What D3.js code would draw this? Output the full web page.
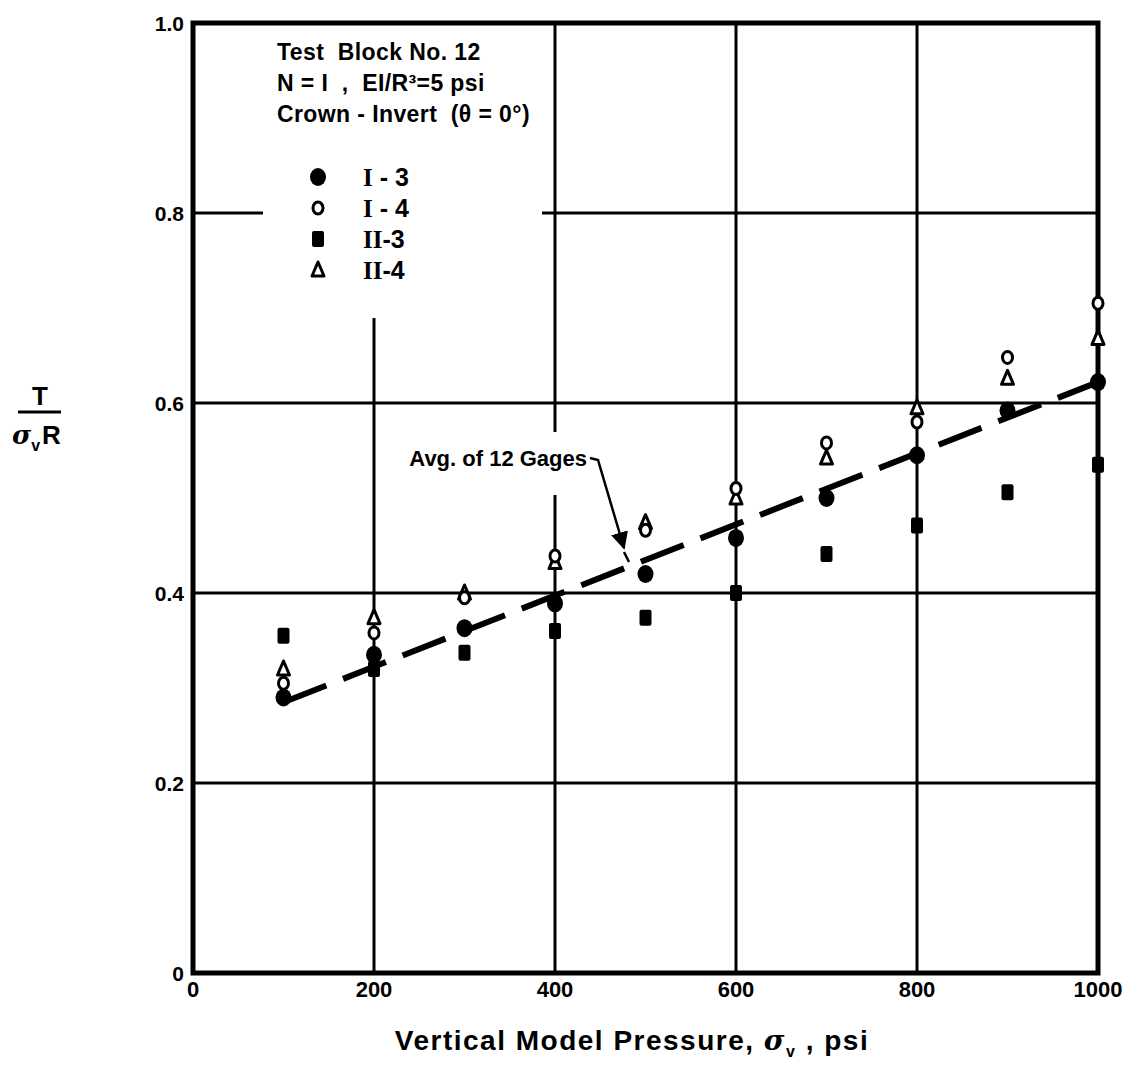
<!DOCTYPE html>
<html>
<head>
<meta charset="utf-8">
<script src="https://cdn.jsdelivr.net/npm/d3@7/dist/d3.min.js"></script>
<style>
  html, body { margin: 0; padding: 0; background: #fff; }
  svg { display: block; }
  text { font-family: "Liberation Sans", Arial, sans-serif; font-weight: bold; fill: #000; white-space: pre; }
</style>
</head>
<body>
<script>
// Test Block No. 12 — hoop thrust ratio vs vertical model pressure
const pressures = [100, 200, 300, 400, 500, 600, 700, 800, 900, 1000];
const gageI3  = [0.290, 0.335, 0.363, 0.389, 0.420, 0.458, 0.500, 0.545, 0.592, 0.622];
const gageI4  = [0.305, 0.358, 0.395, 0.439, 0.466, 0.510, 0.558, 0.580, 0.648, 0.705];
const gageII3 = [0.355, 0.320, 0.337, 0.360, 0.374, 0.400, 0.441, 0.471, 0.506, 0.535];
const gageII4 = [0.320, 0.374, 0.400, 0.432, 0.474, 0.500, 0.542, 0.595, 0.626, 0.668];

// average of 12 gages (straight line)
const avgPressure = [100, 1000];
const avgValue = [0.285, 0.622];

const xTicks = [0, 200, 400, 600, 800, 1000];
const yTicks = [0, 0.2, 0.4, 0.6, 0.8, 1.0];
const yTickLabels = ["0", "0.2", "0.4", "0.6", "0.8", "1.0"];

const W = 1130, H = 1069;
const svg = d3.select("body").append("svg").attr("width", W).attr("height", H);

const x = d3.scaleLinear().domain([0, 1000]).range([193, 1098]);
const y = d3.scaleLinear().domain([0, 1]).range([973, 23]);

const grid = svg.append("g").attr("stroke", "#000").attr("stroke-width", 3);

// horizontal grid lines (0.8 is broken around the notes)
yTicks.filter(v => v > 0 && v < 1).forEach(v => {
  if (v === 0.8) {
    grid.append("line").attr("x1", x(0)).attr("x2", 263).attr("y1", y(v)).attr("y2", y(v));
    grid.append("line").attr("x1", 542).attr("x2", x(1000)).attr("y1", y(v)).attr("y2", y(v));
  } else {
    grid.append("line").attr("x1", x(0)).attr("x2", x(1000)).attr("y1", y(v)).attr("y2", y(v));
  }
});

// vertical grid lines (200 starts below the legend, 400 breaks around the label)
xTicks.filter(v => v > 0 && v < 1000).forEach(v => {
  if (v === 200) {
    grid.append("line").attr("x1", x(v)).attr("x2", x(v)).attr("y1", 318).attr("y2", y(0));
  } else if (v === 400) {
    grid.append("line").attr("x1", x(v)).attr("x2", x(v)).attr("y1", y(1)).attr("y2", 432);
    grid.append("line").attr("x1", x(v)).attr("x2", x(v)).attr("y1", 495).attr("y2", y(0));
  } else {
    grid.append("line").attr("x1", x(v)).attr("x2", x(v)).attr("y1", y(1)).attr("y2", y(0));
  }
});

// frame
svg.append("rect")
  .attr("x", x(0)).attr("y", y(1))
  .attr("width", x(1000) - x(0)).attr("height", y(0) - y(1))
  .attr("fill", "none").attr("stroke", "#000").attr("stroke-width", 5);

// tick labels
svg.append("g").selectAll("text").data(xTicks).join("text")
  .attr("x", d => x(d)).attr("y", 997)
  .attr("text-anchor", "middle").attr("font-size", 22)
  .text(d => d);

svg.append("g").selectAll("text").data(yTicks).join("text")
  .attr("x", 184).attr("y", d => y(d) + 8)
  .attr("text-anchor", "end").attr("font-size", 21)
  .text((d, i) => yTickLabels[i]);

// x-axis title
const xt = svg.append("text").attr("x", 632).attr("y", 1050)
  .attr("text-anchor", "middle").attr("font-size", 28).attr("letter-spacing", 1.5);
xt.append("tspan").text("Vertical Model Pressure, ");
xt.append("tspan").attr("font-family", "DejaVu Serif").attr("font-style", "italic").text("σ");
xt.append("tspan").attr("font-size", 16).attr("dy", 7).text("v");
xt.append("tspan").attr("dy", -7).text(" , psi");

// y-axis title as a fraction
svg.append("text").attr("x", 40).attr("y", 405).attr("text-anchor", "middle")
  .attr("font-size", 26).text("T");
svg.append("line").attr("x1", 18).attr("x2", 61).attr("y1", 412).attr("y2", 412)
  .attr("stroke", "#000").attr("stroke-width", 3);
const yt = svg.append("text").attr("x", 12).attr("y", 444).attr("font-size", 26);
yt.append("tspan").attr("font-family", "DejaVu Serif").attr("font-style", "italic").text("σ");
yt.append("tspan").attr("font-size", 16).attr("dy", 7).text("v");
yt.append("tspan").attr("dy", -7).attr("dx", 2).text("R");

// average line
const avgLine = d3.line().x(d => x(d[0])).y(d => y(d[1]));
svg.append("path")
  .attr("d", avgLine(d3.zip(avgPressure, avgValue)))
  .attr("fill", "none").attr("stroke", "#000").attr("stroke-width", 6)
  .attr("stroke-dasharray", "46 18");

// leader with arrow for the average line
svg.append("defs").append("marker")
  .attr("id", "arrow").attr("viewBox", "0 0 10 10").attr("refX", 9).attr("refY", 5)
  .attr("markerWidth", 7).attr("markerHeight", 7).attr("orient", "auto")
  .append("path").attr("d", "M0,0 L10,5 L0,10 Z").attr("fill", "#000");
svg.append("path")
  .attr("d", "M590,458 L598,460 L624,548")
  .attr("fill", "none").attr("stroke", "#000").attr("stroke-width", 2.5)
  .attr("marker-end", "url(#arrow)");
svg.append("path").attr("d", "M624,552 L629,562")
  .attr("fill", "none").attr("stroke", "#000").attr("stroke-width", 2.5);
svg.append("text").attr("x", 587).attr("y", 466).attr("text-anchor", "end")
  .attr("font-size", 22).text("Avg. of 12 Gages");

// marker drawing helpers
function drawSymbol(g, kind, cx, cy) {
  if (kind === "filledCircle") {
    g.append("ellipse").attr("cx", cx).attr("cy", cy).attr("rx", 8).attr("ry", 9).attr("fill", "#000");
  } else if (kind === "openCircle") {
    g.append("ellipse").attr("cx", cx).attr("cy", cy).attr("rx", 5).attr("ry", 6)
      .attr("fill", "#fff").attr("stroke", "#000").attr("stroke-width", 3);
  } else if (kind === "square") {
    g.append("rect").attr("x", cx - 6).attr("y", cy - 8).attr("width", 12).attr("height", 16)
      .attr("rx", 2).attr("fill", "#000");
  } else if (kind === "triangle") {
    const p = d3.path();
    p.moveTo(cx, cy - 8); p.lineTo(cx + 6, cy + 6); p.lineTo(cx - 6, cy + 6); p.closePath();
    g.append("path").attr("d", p.toString()).attr("fill", "#fff")
      .attr("stroke", "#000").attr("stroke-width", 3).attr("stroke-linejoin", "round");
  }
}

const series = [
  { kind: "square", values: gageII3 },
  { kind: "filledCircle", values: gageI3 },
  { kind: "triangle", values: gageII4 },
  { kind: "openCircle", values: gageI4 }
];
const pts = svg.append("g");
series.forEach(s => {
  pressures.forEach((p, i) => drawSymbol(pts, s.kind, x(p), y(s.values[i])));
});

// notes and legend
const notes = ["Test  Block No. 12", "N = I  ,  EI/R³=5 psi", "Crown - Invert  (θ = 0°)"];
svg.append("g").selectAll("text").data(notes).join("text")
  .attr("x", 277).attr("y", (d, i) => 60 + i * 31)
  .attr("font-size", 23).attr("letter-spacing", 0.4)
  .text(d => d);

const legendItems = [
  { kind: "filledCircle", num: "I", suffix: " - 3" },
  { kind: "openCircle", num: "I", suffix: " - 4" },
  { kind: "square", num: "II", suffix: "-3" },
  { kind: "triangle", num: "II", suffix: "-4" }
];
const leg = svg.append("g");
legendItems.forEach((d, i) => {
  const cy = 177 + i * 31;
  drawSymbol(leg, d.kind, 318, cy);
  const t = leg.append("text").attr("x", 363).attr("y", cy + 9).attr("font-size", 25);
  t.append("tspan").attr("font-family", "Liberation Serif").text(d.num);
  t.append("tspan").text(d.suffix);
});
</script>
</body>
</html>
